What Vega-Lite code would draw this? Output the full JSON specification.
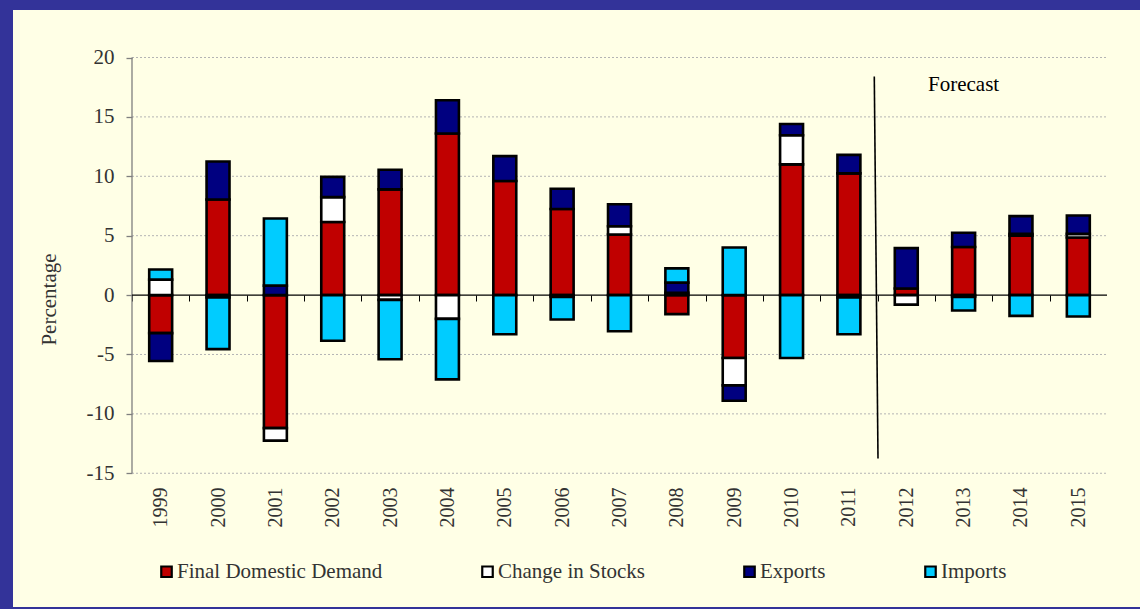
{
  "$schema": "https://vega.github.io/schema/vega-lite/v6.json",
  "width": 1127,
  "height": 597,
  "autosize": {"type": "none"},
  "padding": {"left": 13, "top": 10, "right": 0, "bottom": 2},
  "background": "#333399",
  "config": {"view": {"fill": "#FFFFE6", "stroke": null}, "font": "Liberation Serif"},
  "resolve": {"axis": {"x": "independent", "y": "independent"}},
  "layer": [
    {
      "data": {"values": [
        {"from": "1999", "to": "2015", "v": -15},
        {"from": "1999", "to": "2015", "v": -10},
        {"from": "1999", "to": "2015", "v": -5},
        {"from": "1999", "to": "2015", "v": 5},
        {"from": "1999", "to": "2015", "v": 10},
        {"from": "1999", "to": "2015", "v": 15},
        {"from": "1999", "to": "2015", "v": 20}
      ]},
      "mark": {"type": "rule", "color": "#B4B4B4", "strokeWidth": 1, "strokeDash": [2, 2]},
      "encoding": {
        "x": {"field": "from", "type": "nominal", "bandPosition": -0.75, "scale": {"type": "band", "paddingInner": 0.6, "paddingOuter": 0.3, "align": 0.5, "rangeMin": 119, "rangeMax": 1094, "round": false}, "axis": null},
        "x2": {"field": "to", "bandPosition": 1.75},
        "y": {"field": "v", "type": "quantitative", "scale": {"domain": [-26.26, 24.0], "nice": false, "zero": false}, "axis": null}
      }
    },
    {
      "data": {"values": [{"year": "1999", "lo": -15, "hi": 20}]},
      "mark": {"type": "rule", "color": "#7F7F7F", "strokeWidth": 1.3},
      "encoding": {
        "x": {"field": "year", "type": "nominal", "bandPosition": -0.75, "scale": {"type": "band", "paddingInner": 0.6, "paddingOuter": 0.3, "align": 0.5, "rangeMin": 119, "rangeMax": 1094, "round": false}, "axis": null},
        "y": {"field": "lo", "type": "quantitative", "scale": {"domain": [-26.26, 24.0], "nice": false, "zero": false}, "axis": null},
        "y2": {"field": "hi"}
      }
    },
    {
      "data": {"values": [
        {"year": "1999", "series": "Final Domestic Demand", "k": 1, "value": -3.2},
        {"year": "1999", "series": "Change in Stocks", "k": 2, "value": 1.3},
        {"year": "1999", "series": "Exports", "k": 3, "value": -2.35},
        {"year": "1999", "series": "Imports", "k": 4, "value": 0.85},
        {"year": "2000", "series": "Final Domestic Demand", "k": 1, "value": 8.05},
        {"year": "2000", "series": "Change in Stocks", "k": 2, "value": -0.2},
        {"year": "2000", "series": "Exports", "k": 3, "value": 3.2},
        {"year": "2000", "series": "Imports", "k": 4, "value": -4.35},
        {"year": "2001", "series": "Final Domestic Demand", "k": 1, "value": -11.2},
        {"year": "2001", "series": "Change in Stocks", "k": 2, "value": -1.05},
        {"year": "2001", "series": "Exports", "k": 3, "value": 0.8},
        {"year": "2001", "series": "Imports", "k": 4, "value": 5.65},
        {"year": "2002", "series": "Final Domestic Demand", "k": 1, "value": 6.15},
        {"year": "2002", "series": "Change in Stocks", "k": 2, "value": 2.1},
        {"year": "2002", "series": "Exports", "k": 3, "value": 1.7},
        {"year": "2002", "series": "Imports", "k": 4, "value": -3.85},
        {"year": "2003", "series": "Final Domestic Demand", "k": 1, "value": 8.9},
        {"year": "2003", "series": "Change in Stocks", "k": 2, "value": -0.4},
        {"year": "2003", "series": "Exports", "k": 3, "value": 1.65},
        {"year": "2003", "series": "Imports", "k": 4, "value": -5.0},
        {"year": "2004", "series": "Final Domestic Demand", "k": 1, "value": 13.6},
        {"year": "2004", "series": "Change in Stocks", "k": 2, "value": -2.0},
        {"year": "2004", "series": "Exports", "k": 3, "value": 2.8},
        {"year": "2004", "series": "Imports", "k": 4, "value": -5.1},
        {"year": "2005", "series": "Final Domestic Demand", "k": 1, "value": 9.6},
        {"year": "2005", "series": "Exports", "k": 3, "value": 2.1},
        {"year": "2005", "series": "Imports", "k": 4, "value": -3.3},
        {"year": "2006", "series": "Final Domestic Demand", "k": 1, "value": 7.25},
        {"year": "2006", "series": "Change in Stocks", "k": 2, "value": -0.15},
        {"year": "2006", "series": "Exports", "k": 3, "value": 1.7},
        {"year": "2006", "series": "Imports", "k": 4, "value": -1.9},
        {"year": "2007", "series": "Final Domestic Demand", "k": 1, "value": 5.1},
        {"year": "2007", "series": "Change in Stocks", "k": 2, "value": 0.7},
        {"year": "2007", "series": "Exports", "k": 3, "value": 1.85},
        {"year": "2007", "series": "Imports", "k": 4, "value": -3.05},
        {"year": "2008", "series": "Final Domestic Demand", "k": 1, "value": -1.6},
        {"year": "2008", "series": "Change in Stocks", "k": 2, "value": 0.2},
        {"year": "2008", "series": "Exports", "k": 3, "value": 0.85},
        {"year": "2008", "series": "Imports", "k": 4, "value": 1.2},
        {"year": "2009", "series": "Final Domestic Demand", "k": 1, "value": -5.3},
        {"year": "2009", "series": "Change in Stocks", "k": 2, "value": -2.3},
        {"year": "2009", "series": "Exports", "k": 3, "value": -1.3},
        {"year": "2009", "series": "Imports", "k": 4, "value": 4.0},
        {"year": "2010", "series": "Final Domestic Demand", "k": 1, "value": 11.0},
        {"year": "2010", "series": "Change in Stocks", "k": 2, "value": 2.45},
        {"year": "2010", "series": "Exports", "k": 3, "value": 0.95},
        {"year": "2010", "series": "Imports", "k": 4, "value": -5.3},
        {"year": "2011", "series": "Final Domestic Demand", "k": 1, "value": 10.25},
        {"year": "2011", "series": "Change in Stocks", "k": 2, "value": -0.2},
        {"year": "2011", "series": "Exports", "k": 3, "value": 1.55},
        {"year": "2011", "series": "Imports", "k": 4, "value": -3.1},
        {"year": "2012", "series": "Final Domestic Demand", "k": 1, "value": 0.55},
        {"year": "2012", "series": "Change in Stocks", "k": 2, "value": -0.8},
        {"year": "2012", "series": "Exports", "k": 3, "value": 3.4},
        {"year": "2013", "series": "Final Domestic Demand", "k": 1, "value": 4.05},
        {"year": "2013", "series": "Change in Stocks", "k": 2, "value": -0.15},
        {"year": "2013", "series": "Exports", "k": 3, "value": 1.2},
        {"year": "2013", "series": "Imports", "k": 4, "value": -1.15},
        {"year": "2014", "series": "Final Domestic Demand", "k": 1, "value": 5.0},
        {"year": "2014", "series": "Change in Stocks", "k": 2, "value": 0.15},
        {"year": "2014", "series": "Exports", "k": 3, "value": 1.5},
        {"year": "2014", "series": "Imports", "k": 4, "value": -1.75},
        {"year": "2015", "series": "Final Domestic Demand", "k": 1, "value": 4.85},
        {"year": "2015", "series": "Change in Stocks", "k": 2, "value": 0.3},
        {"year": "2015", "series": "Exports", "k": 3, "value": 1.55},
        {"year": "2015", "series": "Imports", "k": 4, "value": -1.8}
      ]},
      "mark": {"type": "bar", "stroke": "#000000", "strokeWidth": 2.6},
      "encoding": {
        "x": {
          "field": "year", "type": "nominal",
          "scale": {"type": "band", "paddingInner": 0.6, "paddingOuter": 0.3, "align": 0.5, "rangeMin": 119, "rangeMax": 1094, "round": false},
          "axis": {
            "orient": "bottom", "offset": -312, "domain": false, "grid": false,
            "bandPosition": 0, "tickOffset": -17.2, "labelOffset": 17.2,
            "tickSize": 6, "tickColor": "#000000", "tickWidth": 1,
            "labelAngle": 270, "labelPadding": 186,
            "labelFont": "Liberation Serif", "labelFontSize": 20, "labelColor": "#333333",
            "labelOverlap": false, "title": null
          }
        },
        "y": {
          "field": "value", "type": "quantitative", "stack": "zero",
          "scale": {"domain": [-26.26, 24.0], "nice": false, "zero": false},
          "axis": {
            "orient": "left", "offset": -119,
            "values": [-15, -10, -5, 0, 5, 10, 15, 20],
            "labelExpr": "'' + datum.value",
            "domain": false, "grid": false,
            "tickSize": 6, "tickColor": "#7F7F7F", "tickWidth": 1.3,
            "labelPadding": 12, "labelFont": "Liberation Serif", "labelFontSize": 21,
            "labelColor": "#333333", "labelOverlap": false,
            "title": "Percentage", "titleFont": "Liberation Serif", "titleFontSize": 21,
            "titleFontWeight": "normal", "titleColor": "#333333",
            "titleAngle": 270, "titleAlign": "center", "titleBaseline": "middle",
            "titleX": -83, "titleY": 289
          }
        },
        "color": {
          "field": "series", "type": "nominal",
          "scale": {
            "domain": ["Final Domestic Demand", "Change in Stocks", "Exports", "Imports"],
            "range": ["#C00000", "#FFFFFF", "#000080", "#00CCFF"]
          },
          "legend": {
            "orient": "none", "legendX": 143, "legendY": 551,
            "direction": "horizontal", "columns": 4, "columnPadding": 94,
            "title": null, "padding": 0,
            "symbolType": "square", "symbolSize": 110,
            "symbolStrokeColor": "#000000", "symbolStrokeWidth": 2.2, "symbolOpacity": 1,
            "labelFont": "Liberation Serif", "labelFontSize": 21, "labelColor": "#333333",
            "labelOffset": 0, "labelLimit": 400
          }
        },
        "order": {"field": "k", "type": "quantitative"}
      }
    },
    {
      "data": {"values": [{"from": "1999", "to": "2015", "v": 0}]},
      "mark": {"type": "rule", "color": "#000000", "strokeWidth": 1.3},
      "encoding": {
        "x": {"field": "from", "type": "nominal", "bandPosition": -0.75, "scale": {"type": "band", "paddingInner": 0.6, "paddingOuter": 0.3, "align": 0.5, "rangeMin": 119, "rangeMax": 1094, "round": false}, "axis": null},
        "x2": {"field": "to", "bandPosition": 1.75},
        "y": {"field": "v", "type": "quantitative", "scale": {"domain": [-26.26, 24.0], "nice": false, "zero": false}, "axis": null}
      }
    },
    {
      "data": {"values": [{"year": "2012", "top": 18.4, "bottom": -13.75}]},
      "mark": {"type": "rule", "color": "#000000", "strokeWidth": 1.6},
      "encoding": {
        "x": {"field": "year", "type": "nominal", "bandPosition": -0.894, "scale": {"type": "band", "paddingInner": 0.6, "paddingOuter": 0.3, "align": 0.5, "rangeMin": 119, "rangeMax": 1094, "round": false}, "axis": null},
        "x2": {"field": "year", "bandPosition": -0.732},
        "y": {"field": "top", "type": "quantitative", "scale": {"domain": [-26.26, 24.0], "nice": false, "zero": false}, "axis": null},
        "y2": {"field": "bottom"}
      }
    },
    {
      "data": {"values": [{"year": "2013", "v": 17.2, "label": "Forecast"}]},
      "mark": {"type": "text", "font": "Liberation Serif", "fontSize": 21, "color": "#000000", "align": "center", "baseline": "alphabetic"},
      "encoding": {
        "x": {"field": "year", "type": "nominal", "scale": {"type": "band", "paddingInner": 0.6, "paddingOuter": 0.3, "align": 0.5, "rangeMin": 119, "rangeMax": 1094, "round": false}, "axis": null},
        "y": {"field": "v", "type": "quantitative", "scale": {"domain": [-26.26, 24.0], "nice": false, "zero": false}, "axis": null},
        "text": {"field": "label"}
      }
    }
  ]
}
